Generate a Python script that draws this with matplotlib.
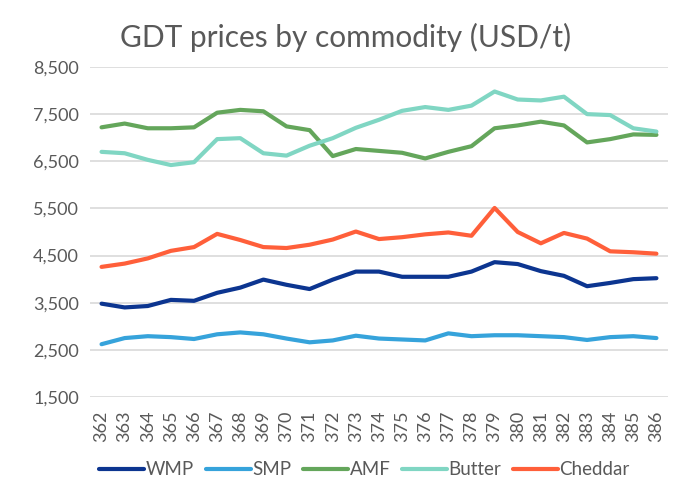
import matplotlib
matplotlib.use('Agg')
import matplotlib.pyplot as plt
from matplotlib.ticker import FuncFormatter

# GDT event numbers
events = [str(e) for e in range(362, 387)]

wmp = [3480, 3400, 3430, 3560, 3540, 3710, 3820, 3990, 3880, 3790, 3990, 4160, 4160,
       4050, 4050, 4050, 4160, 4360, 4320, 4170, 4070, 3850, 3920, 4000, 4020]
smp = [2620, 2750, 2790, 2770, 2730, 2830, 2870, 2830, 2740, 2660, 2700, 2800, 2740,
       2720, 2700, 2850, 2790, 2810, 2810, 2790, 2770, 2710, 2770, 2790, 2750]
amf = [7220, 7300, 7200, 7200, 7220, 7530, 7590, 7560, 7240, 7160, 6610, 6760, 6720,
       6680, 6560, 6700, 6820, 7200, 7260, 7340, 7260, 6900, 6970, 7070, 7060]
butter = [6700, 6670, 6530, 6420, 6480, 6970, 6990, 6670, 6620, 6830, 6990, 7210, 7380,
          7570, 7650, 7590, 7680, 7980, 7810, 7790, 7870, 7500, 7480, 7200, 7130]
cheddar = [4260, 4330, 4440, 4600, 4680, 4960, 4830, 4680, 4660, 4730, 4840, 5010, 4850,
           4890, 4950, 4990, 4920, 5510, 5000, 4760, 4980, 4860, 4590, 4570, 4540]

series_names = ['WMP', 'SMP', 'AMF', 'Butter', 'Cheddar']
y_ticks = [1500, 2500, 3500, 4500, 5500, 6500, 7500, 8500]

colors = ['#0C3590', '#36A3DB', '#64A65B', '#80D6C3', '#FF5F3A']
text_color = '#595959'

plt.rcParams['font.family'] = ['Lato', 'DejaVu Sans']

fig = plt.figure(figsize=(6.89, 4.98), dpi=100)
ax = fig.add_axes([0.1306, 0.2028, 0.8389, 0.6627])

x = range(len(events))
for vals, name, c in zip([wmp, smp, amf, butter, cheddar], series_names, colors):
    ax.plot(x, vals, color=c, linewidth=3, label=name, solid_capstyle='round', zorder=3)

ax.set_ylim(1500, 8500)
ax.set_xlim(-0.5, len(events) - 0.5)
ax.set_yticks(y_ticks)
ax.yaxis.set_major_formatter(FuncFormatter(lambda v, p: f'{int(v):,}'))
ax.set_xticks(list(x))
ax.set_xticklabels(events, rotation=90)

ax.grid(axis='y', color='#D9D9D9', linewidth=1.2)
ax.set_axisbelow(True)
for s in ax.spines.values():
    s.set_visible(False)
ax.tick_params(length=0, colors=text_color, labelsize=13)
ax.tick_params(axis='y', pad=8)
ax.tick_params(axis='x', pad=10)

fig.text(0.5015, 0.924, 'GDT prices by commodity (USD/t)', ha='center', va='center',
         fontsize=21.5, color=text_color)

fig.legend(loc='center', bbox_to_anchor=(0.529, 0.057), ncol=5, frameon=False,
           fontsize=13.5, labelcolor=text_color, handlelength=2.4, handletextpad=0.1,
           columnspacing=0.6)

fig.savefig('out.png', dpi=100)
